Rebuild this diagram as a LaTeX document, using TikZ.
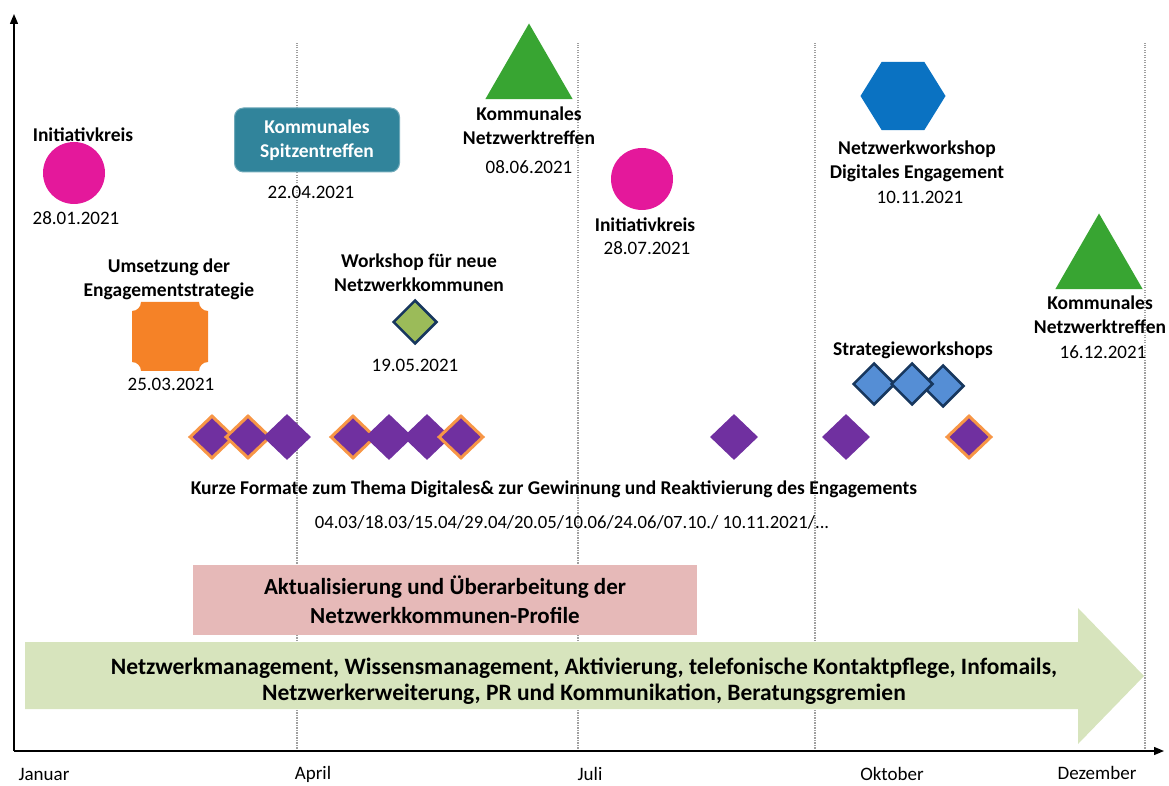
\documentclass[tikz,border=0pt]{standalone}
\usepackage{fontspec}
\setmainfont{Carlito}
\usetikzlibrary{shapes.geometric,arrows.meta}

\definecolor{kreispink}{HTML}{E4189B}
\definecolor{spitzeteal}{HTML}{31849B}
\definecolor{treffgruen}{HTML}{38A532}
\definecolor{workblau}{HTML}{0A72C2}
\definecolor{umsorange}{HTML}{F58227}
\definecolor{neugruen}{HTML}{9BBB59}
\definecolor{randnavy}{HTML}{17375E}
\definecolor{kurzlila}{HTML}{7030A0}
\definecolor{kurzrand}{HTML}{F79646}
\definecolor{stratblau}{HTML}{558ED5}
\definecolor{profilrosa}{HTML}{E6B9B8}
\definecolor{netzgruen}{HTML}{D7E4BD}

\tikzset{
  lbl/.style={font=\bfseries\fontsize{19.5}{24}\selectfont, align=center, inner sep=0pt},
  datum/.style={font=\fontsize{19}{24}\selectfont, inner sep=0pt},
  monat/.style={font=\fontsize{19}{24}\selectfont, inner sep=0pt},
  raster/.style={gray!75, line width=1.2pt, dash pattern=on 1.2pt off 1.3pt},
  achse/.style={line width=1.3pt, -{Triangle[length=10pt,width=8pt]}},
  kreis/.style={circle, fill=kreispink, minimum size=62pt, inner sep=0pt},
  treffen/.style={regular polygon, regular polygon sides=3, fill=treffgruen, minimum size=101pt, inner sep=0pt},
  kurz/.style={diamond, fill=kurzlila, minimum width=48pt, minimum height=46pt, inner sep=0pt},
  kurzrand/.style={kurz, draw=kurzrand, line width=3pt, minimum width=45pt, minimum height=43pt},
  strat/.style={diamond, fill=stratblau, draw=randnavy, line width=2.5pt, minimum width=42pt, minimum height=42pt, inner sep=0pt}
}

\begin{document}
\begin{tikzpicture}[x=1pt,y=1pt]
    \useasboundingbox (0,0) rectangle (1169,785);

    % Raster
    \foreach \mx in {297,578,815,1145}
        \draw[raster] (\mx,34) -- (\mx,742);

    % Achsen
    \coordinate (ursprung) at (14,34);
    \coordinate (yende) at (14,771);
    \coordinate (xende) at (1164,34);
    \draw[achse] (ursprung) -- (yende);
    \draw[achse] (ursprung) -- (xende);

    \node[monat] (jan) at (44,11) {Januar};
    \node[monat] (apr) at (313,11) {April};
    \node[monat] (jul) at (590,11) {Juli};
    \node[monat] (okt) at (892,11) {Oktober};
    \node[monat] (dez) at (1097,12) {Dezember};

    % Netzwerkmanagement
    \fill[netzgruen] (25,76) -- (1078,76) -- (1078,41) -- (1144,109) -- (1078,177) -- (1078,143) -- (25,143) -- cycle;
    \node[lbl, font=\bfseries\fontsize{23.5}{26}\selectfont] (netz) at (584,104)
        {Netzwerkmanagement, Wissensmanagement, Aktivierung, telefonische Kontaktpflege, Infomails,\\
         Netzwerkerweiterung, PR und Kommunikation, Beratungsgremien};

    % Profile
    \node[fill=profilrosa, minimum width=504pt, minimum height=70pt, align=center,
          font=\bfseries\fontsize{23}{29}\selectfont] (profil) at (445,185)
        {Aktualisierung und Überarbeitung der\\Netzwerkkommunen-Profile};

    % Kurze Formate
    \node[kurzrand] (k1) at (212,348) {};
    \node[kurzrand] (k2) at (248,348) {};
    \node[kurz] (k3) at (287,348) {};
    \node[kurzrand] (k4) at (353,348) {};
    \node[kurz] (k5) at (389,348) {};
    \node[kurz] (k6) at (427,348) {};
    \node[kurzrand] (k7) at (461,348) {};
    \node[kurz] (k8) at (734,348) {};
    \node[kurz] (k9) at (846,348) {};
    \node[kurzrand] (k10) at (969,348) {};
    \node[lbl] (kurztext) at (554,296)
        {Kurze Formate zum Thema Digitales\& zur Gewinnung und Reaktivierung des Engagements};
    \node[datum, font=\fontsize{18.7}{24}\selectfont] (kurzdaten) at (572,263) {04.03/18.03/15.04/29.04/20.05/10.06/24.06/07.10./ 10.11.2021/...};

    % Initiativkreis Januar
    \node[lbl] (ik1) at (83,650) {Initiativkreis};
    \node[kreis] (kreis1) at (74,612) {};
    \node[datum] (ik1d) at (76,567) {28.01.2021};

    % Spitzentreffen
    \node[fill=spitzeteal, draw=spitzeteal!70!white, line width=1pt, rounded corners=9pt,
          minimum width=165pt, minimum height=64pt, text=white, lbl] (spitze) at (317,645)
        {Kommunales\\Spitzentreffen};
    \node[datum] (spitzed) at (311,593) {22.04.2021};

    % Netzwerktreffen Juni
    \node[treffen] (tr1) at (529,711) {};
    \node[lbl] (tr1l) at (529,659) {Kommunales\\Netzwerktreffen};
    \node[datum] (tr1d) at (529,618) {08.06.2021};

    % Initiativkreis Juli
    \node[kreis] (kreis2) at (642,606) {};
    \node[lbl] (ik2) at (645,560) {Initiativkreis};
    \node[datum] (ik2d) at (647,537) {28.07.2021};

    % Netzwerkworkshop
    \node[regular polygon, regular polygon sides=6, fill=workblau, minimum size=85pt, inner sep=0pt, yscale=0.93] (hexa) at (903,689) {};
    \node[lbl] (hexal) at (917,624) {Netzwerkworkshop\\Digitales Engagement};
    \node[datum] (hexad) at (920,588) {10.11.2021};

    % Netzwerktreffen Dezember
    \node[treffen] (tr2) at (1099,521) {};
    \node[lbl] (tr2l) at (1100,470) {Kommunales\\Netzwerktreffen};
    \node[datum] (tr2d) at (1103,433) {16.12.2021};

    % Engagementstrategie
    \node[lbl] (umsl) at (169,506) {Umsetzung der\\Engagementstrategie};
    \fill[umsorange] (141,483) -- (199,483) arc[start angle=180, end angle=270, radius=9]
        -- (208,423) arc[start angle=90, end angle=180, radius=9]
        -- (141,414) arc[start angle=0, end angle=90, radius=9]
        -- (132,474) arc[start angle=270, end angle=360, radius=9] -- cycle;
    \node[datum] (umsd) at (171,401) {25.03.2021};

    % Workshop neue Kommunen
    \node[lbl] (neul) at (419,512) {Workshop für neue\\Netzwerkkommunen};
    \node[diamond, fill=neugruen, draw=randnavy, line width=2.5pt, minimum size=44pt, inner sep=0pt] (neu) at (415,463) {};
    \node[datum] (neud) at (415,420) {19.05.2021};

    % Strategieworkshops
    \node[lbl] (stratl) at (913,435) {Strategieworkshops};
    \node[strat] (s1) at (874,401) {};
    \node[strat] (s3) at (943,399) {};
    \node[strat] (s2) at (912,401) {};

\end{tikzpicture}
\end{document}
